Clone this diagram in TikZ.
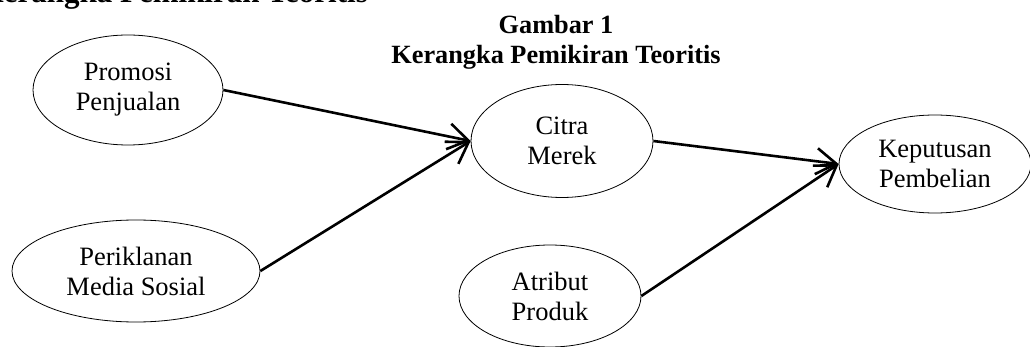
\documentclass[tikz,border=0pt]{standalone}
\usepackage{fontspec}
\setmainfont{Liberation Serif}
\usepackage{tikz}
\usetikzlibrary{arrows.meta, positioning, shapes.geometric}

\begin{document}
\begin{tikzpicture}[x=1pt, y=-1pt, >={Straight Barb[length=20pt, width=26pt]},
    var/.style={draw, ellipse, line width=0.8pt, inner sep=0pt, align=center,
        font=\fontsize{26.5}{30}\selectfont},
    link/.style={->, line width=2.6pt}]
    \clip (0,0) rectangle (1030,347);
    \useasboundingbox (0,0) rectangle (1030,347);
    % cut-off heading and the figure title
    \node[anchor=base east, inner sep=0pt, font=\fontsize{31}{36}\selectfont\bfseries] (heading) at (368,2.5) {Kerangka Pemikiran Teoritis};
    \node[align=center, inner sep=0pt, font=\fontsize{26.3}{30}\selectfont\bfseries] (title) at (556,42) {Gambar 1\\Kerangka Pemikiran Teoritis};
    % variables
    \node[var, minimum width=190pt, minimum height=110pt] (promosi) at (128,90) {Promosi\\Penjualan};
    \node[var, minimum width=248pt, minimum height=102pt] (iklan) at (136,271) {Periklanan\\Media Sosial};
    \node[var, minimum width=182pt, minimum height=113pt] (citra) at (562,141) {Citra\\Merek};
    \node[var, minimum width=182pt, minimum height=102pt] (atribut) at (550,296) {Atribut\\Produk};
    \node[var, minimum width=192pt, minimum height=98pt] (keputusan) at (935,164) {Keputusan\\Pembelian};
    % paths
    \draw[link] (promosi.east) -- (citra.west);
    \draw[link] (iklan.east) -- (citra.west);
    \draw[link] (citra.east) -- (keputusan.west);
    \draw[link] (atribut.east) -- (keputusan.west);
\end{tikzpicture}
\end{document}
